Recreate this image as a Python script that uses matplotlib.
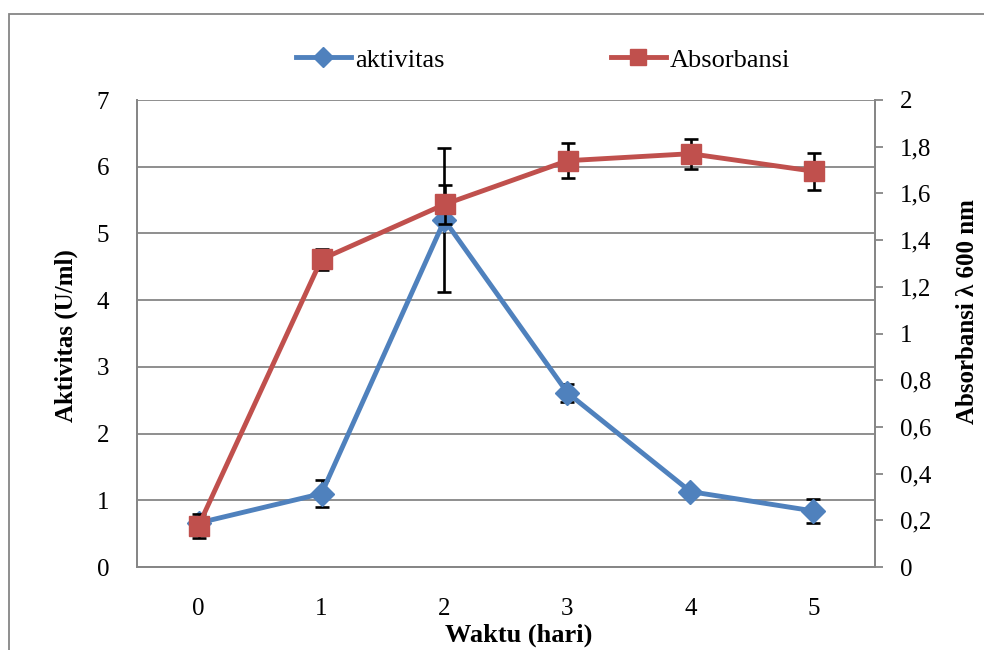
import numpy as np
import matplotlib
matplotlib.use("Agg")
import matplotlib.pyplot as plt
from matplotlib.ticker import FuncFormatter
from matplotlib.patches import Rectangle

plt.rcParams['font.family'] = ['Liberation Serif', 'DejaVu Serif']

# Data
days = [0, 1, 2, 3, 4, 5]
aktivitas = [0.66, 1.10, 5.20, 2.61, 1.13, 0.84]
aktivitas_err = [0.0, 0.20, 1.08, 0.13, 0.06, 0.18]
absorbansi = [0.176, 1.318, 1.553, 1.74, 1.77, 1.695]
absorbansi_err = [0.05, 0.045, 0.085, 0.075, 0.065, 0.08]

left_ticks = [0, 1, 2, 3, 4, 5, 6, 7]
right_ticks = [0, 0.2, 0.4, 0.6, 0.8, 1.0, 1.2, 1.4, 1.6, 1.8, 2.0]

blue = "#4F81BD"
red = "#C0504D"
grid_gray = "#868686"

W, H = 984, 650
fig = plt.figure(figsize=(W / 100, H / 100), dpi=100)

# Chart area frame (cut off at right and bottom like the reference)
fig.patches.append(Rectangle((9 / W, -0.1), 1.2, 1 - 14 / H + 0.1,
                             transform=fig.transFigure, fill=False,
                             edgecolor=grid_gray, linewidth=1.3))

ax = fig.add_axes([137 / W, 1 - 567 / H, (875 - 137) / W, (567 - 100) / H])
ax2 = ax.twinx()

# Primary axis: aktivitas
ax.errorbar(days, aktivitas, yerr=aktivitas_err, fmt='none', ecolor='black',
            elinewidth=1.9, capsize=5, capthick=1.9, zorder=2)
ax.plot(days, aktivitas, color=blue, linewidth=3.5, marker='D', markersize=12.5,
        markerfacecolor=blue, markeredgecolor=blue, zorder=3, label='aktivitas')

# Secondary axis: absorbansi
ax2.errorbar(days, absorbansi, yerr=absorbansi_err, fmt='none', ecolor='black',
             elinewidth=1.9, capsize=5, capthick=1.9, zorder=2)
ax2.plot(days, absorbansi, color=red, linewidth=3.5, marker='s', markersize=14,
         markerfacecolor=red, markeredgecolor=red, zorder=3, label='Absorbansi')

ax.set_xlim(-0.5, 5.5)
ax.set_ylim(0, 7)
ax2.set_ylim(0, 2)
ax.set_xticks(days)
ax.set_yticks(left_ticks)
ax2.set_yticks(right_ticks)
ax2.yaxis.set_major_formatter(FuncFormatter(
    lambda v, _: f"{int(round(v))}" if abs(v - round(v)) < 1e-9 else f"{v:.1f}".replace('.', ',')))

ax.yaxis.grid(True, color=grid_gray, linewidth=1.3)
ax.set_axisbelow(True)

for a in (ax, ax2):
    for side in ('left', 'right', 'bottom'):
        a.spines[side].set_color(grid_gray)
        a.spines[side].set_linewidth(1.3)
    a.spines['top'].set_visible(False)

ax.tick_params(axis='x', length=0, pad=22, labelsize=18)
ax.tick_params(axis='y', length=0, pad=20, labelsize=18)
ax2.tick_params(axis='y', length=6, width=1.3, color=grid_gray, pad=12, labelsize=18)

fig.text(66 / W, 1 - 336 / H, "Aktivitas (U/ml)", rotation=90, ha='center', va='center',
         fontsize=18, fontweight='bold')
fig.text(967 / W, 1 - 312 / H, "Absorbansi λ 600 nm", rotation=90, ha='center', va='center',
         fontsize=18, fontweight='bold')
fig.text(519 / W, 3 / H, "Waktu (hari)", ha='center', va='bottom',
         fontsize=19, fontweight='bold')

h1, l1 = ax.get_legend_handles_labels()
h2, l2 = ax2.get_legend_handles_labels()
fig.legend(h1 + h2, l1 + l2, loc='center', bbox_to_anchor=(543 / W, 1 - 60 / H),
           ncol=2, frameon=False, fontsize=19, handlelength=2.1, handletextpad=0.15,
           columnspacing=6.3, markerscale=0.85)

fig.savefig("out.png", dpi=100)
